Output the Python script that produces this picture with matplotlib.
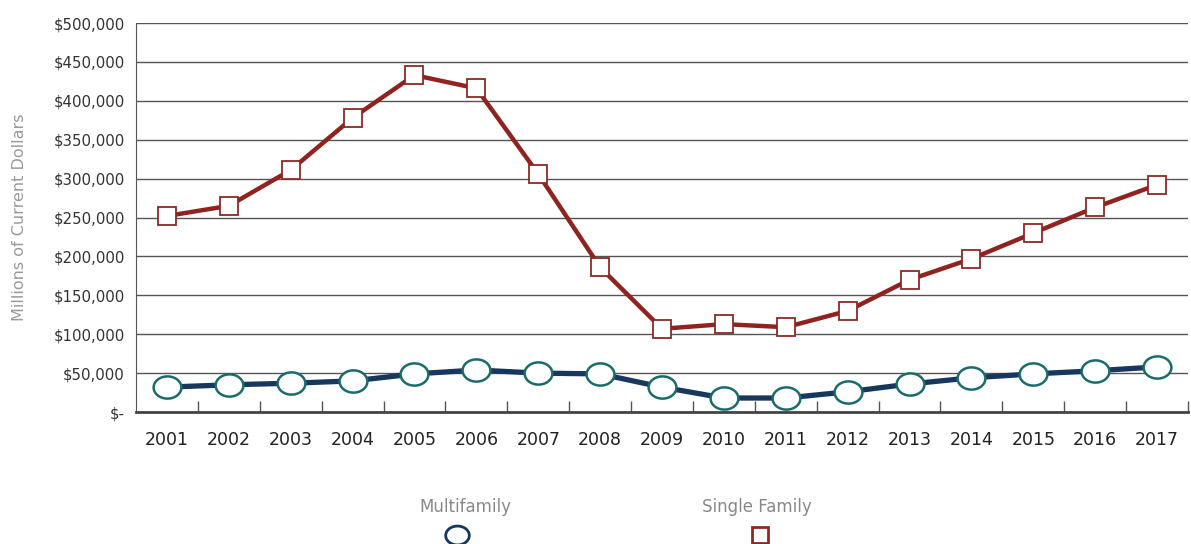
import matplotlib.pyplot as plt
from matplotlib.ticker import FuncFormatter, FixedLocator
from matplotlib.lines import Line2D
from matplotlib.path import Path
import numpy as np

# Mortgage originations, millions of current dollars
years = ['2001', '2002', '2003', '2004', '2005', '2006', '2007', '2008', '2009',
         '2010', '2011', '2012', '2013', '2014', '2015', '2016', '2017']
multifamily = [32000, 35000, 37000, 40000, 49000, 54000, 50000, 49000, 32000,
               18000, 18000, 26000, 36000, 44000, 49000, 53000, 58000]
single_family = [252000, 265000, 311000, 378000, 433000, 416000, 306000, 186000, 107000,
                 113000, 109000, 130000, 170000, 197000, 230000, 263000, 292000]

navy = '#17375e'
teal = '#1b6b6b'
red = '#8e2320'
red_edge = '#8b2a25'

plt.rcParams['font.family'] = ['DejaVu Sans']

# flattened circle marker (wider than tall)
t = np.linspace(0, 2 * np.pi, 60)
ellipse = Path(np.column_stack([1.25 * np.cos(t), np.sin(t)]), closed=True)

fig = plt.figure(figsize=(11.91, 5.44), dpi=100)
ax = fig.add_axes([0.1142, 0.2426, 0.8833, 0.7151])

x = list(range(len(years)))
ax.plot(x, single_family, color=red, lw=3.2, marker='s', ms=13,
        mfc='white', mec=red_edge, mew=1.3, zorder=3)
ax.plot(x, multifamily, color=navy, lw=3.8, marker=ellipse, ms=20,
        mfc='white', mec=teal, mew=1.8, zorder=4)

ax.set_xlim(-0.5, len(years) - 0.5)
ax.set_ylim(0, 500000)
ax.set_yticks(range(0, 500001, 50000))
ax.yaxis.set_major_formatter(FuncFormatter(
    lambda v, p: '$-' if v == 0 else '${:,.0f}'.format(v)))
ax.grid(axis='y', color='#555555', lw=1)
ax.set_axisbelow(True)

# category boundaries carry the tick marks, labels sit at centres
ax.xaxis.set_major_locator(FixedLocator([i + 0.5 for i in range(len(years))]))
ax.xaxis.set_minor_locator(FixedLocator(x))
ax.set_xticklabels([])
ax.set_xticklabels(years, minor=True)
ax.tick_params(axis='x', which='major', direction='in', length=8, color='#555555', width=1)
ax.tick_params(axis='x', which='minor', length=0, pad=14, labelsize=12.5, labelcolor='#222222')
ax.tick_params(axis='y', length=0, pad=8, labelsize=10.8, labelcolor='#333333')

for s in ['top', 'right']:
    ax.spines[s].set_visible(False)
ax.spines['left'].set_color('#555555')
ax.spines['bottom'].set_color('#444444')
ax.spines['bottom'].set_linewidth(2)

fig.text(0.016, 0.6, 'Millions of Current Dollars', rotation=90, ha='center',
         va='center', fontsize=11.5, color='#999999')

# legend drawn underneath the plot
fig.text(465 / 1191, 1 - 507 / 544, 'Multifamily', ha='center', va='center',
         fontsize=12, color='#888888')
fig.text(757 / 1191, 1 - 507 / 544, 'Single Family', ha='center', va='center',
         fontsize=12, color='#888888')
fig.add_artist(Line2D([457 / 1191], [1 - 535 / 544], marker=ellipse, ms=17,
                      mfc='white', mec=navy, mew=2, transform=fig.transFigure))
fig.add_artist(Line2D([760 / 1191], [1 - 535 / 544], marker='s', ms=12,
                      mfc='white', mec=red_edge, mew=2, transform=fig.transFigure))

fig.savefig('out.png', dpi=100)
